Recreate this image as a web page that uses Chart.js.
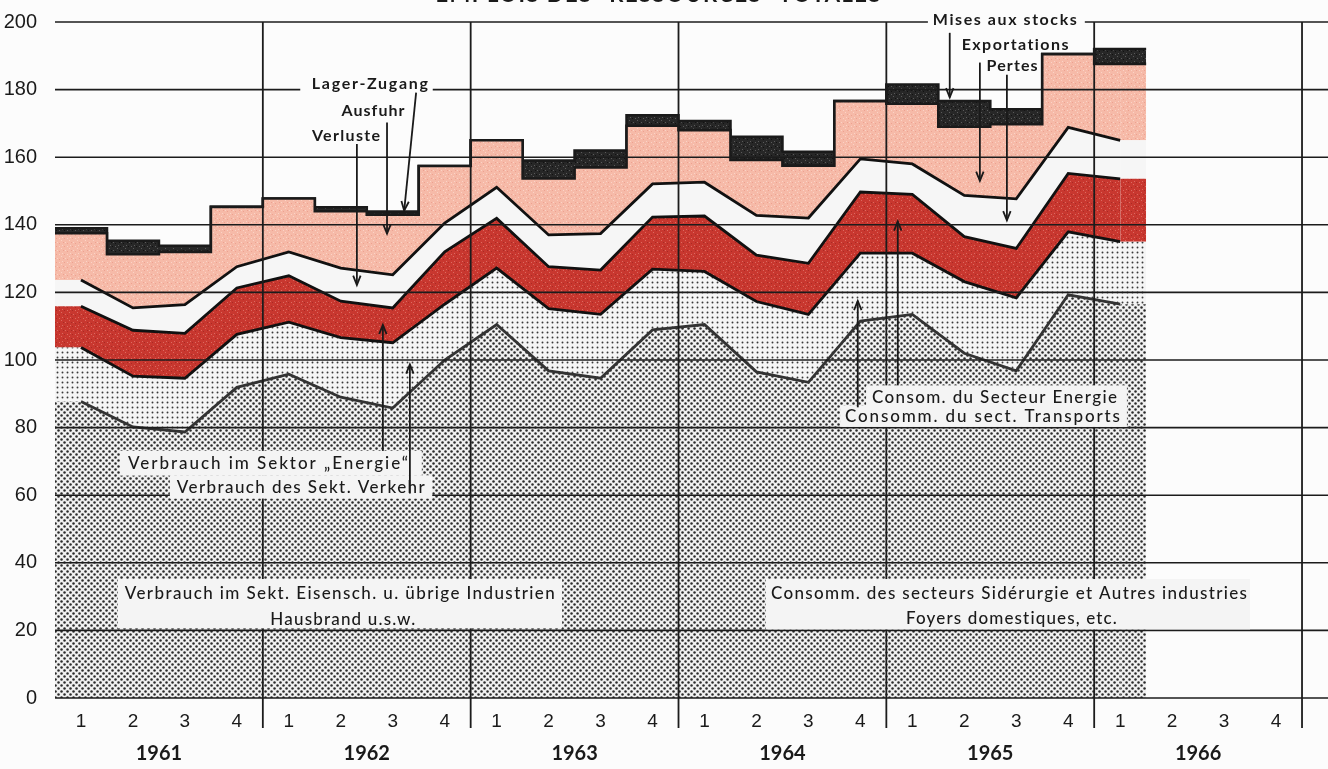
<!DOCTYPE html>
<html>
<head>
<meta charset="utf-8">
<script src="https://cdn.jsdelivr.net/npm/chart.js@4.4.1/dist/chart.umd.min.js"></script>
<style>
  html, body { margin: 0; padding: 0; background: #fcfcfc; }
  .wrap { width: 1328px; height: 769px; position: relative; }
</style>
</head>
<body>
<div class="wrap"><canvas id="chart"></canvas></div>
<script>
const years = ['1961', '1962', '1963', '1964', '1965', '1966'];
const quarterLabels = ['1', '2', '3', '4'];

// upper edge of each band, quarters 1961-1 .. 1966-1
const industrie    = [87.7, 80.2, 78.7, 91.9, 95.8, 89.0, 85.8, 100.0, 110.5, 96.8, 94.6, 108.9, 110.5, 96.5, 93.4, 111.5, 113.5, 102.0, 96.8, 119.3, 116.5];
const transports   = [103.7, 95.2, 94.6, 107.6, 111.2, 106.6, 105.1, 116.5, 127.2, 115.2, 113.5, 126.9, 126.2, 117.3, 113.5, 131.6, 131.6, 123.2, 118.4, 137.9, 135.0];
const energie      = [115.9, 108.8, 107.9, 121.3, 124.9, 117.4, 115.4, 132.0, 141.9, 127.6, 126.6, 142.3, 142.6, 131.0, 128.6, 149.7, 149.0, 136.5, 133.0, 155.2, 153.6];
const pertes       = [123.7, 115.4, 116.4, 127.6, 132.0, 127.2, 125.2, 140.5, 151.1, 137.0, 137.4, 152.1, 152.6, 142.8, 142.0, 159.5, 158.0, 148.7, 147.7, 168.8, 165.0];
const exportations = [137.5, 131.3, 132.0, 145.3, 147.8, 144.0, 143.0, 157.4, 165.0, 153.7, 157.0, 169.3, 168.0, 159.2, 157.5, 176.6, 175.8, 169.0, 169.8, 190.5, 187.6];
const stocks       = [139.0, 135.3, 133.8, 145.3, 147.8, 145.2, 143.9, 157.4, 165.0, 159.0, 162.0, 172.4, 170.7, 166.0, 161.6, 176.6, 181.5, 176.6, 174.2, 190.5, 192.0];

// annotations, in quarters (x) and chart units (y)
const labels = [
  { t: 'Lager-Zugang', q: 6.06, v: 181.8, w: 116, bold: true, bg: [4.72, 184.4, 7.27, 179.1] },
  { t: 'Ausfuhr', q: 6.12, v: 173.6, w: 63, bold: true },
  { t: 'Verluste', q: 5.60, v: 166.2, w: 68, bold: true },
  { t: 'Mises aux stocks', q: 18.28, v: 200.6, w: 144, bold: true, bg: [16.8, 202.9, 19.82, 197.6] },
  { t: 'Exportations', q: 18.48, v: 193.2, w: 107, bold: true },
  { t: 'Pertes', q: 18.42, v: 187.1, w: 51, bold: true },
  { t: 'Verbrauch im Sektor \u201EEnergie\u201C', q: 4.10, v: 69.3, w: 280 },
  { t: 'Verbrauch des Sekt. Verkehr', q: 4.73, v: 62.3, w: 248 },
  { t: 'Verbrauch im Sekt. Eisensch. u. übrige Industrien', q: 5.48, v: 30.8, w: 430 },
  { t: 'Hausbrand u.s.w.', q: 5.54, v: 23.2, w: 145 },
  { t: 'Consom. du Secteur Energie', q: 18.08, v: 89.0, w: 245 },
  { t: 'Consomm. du sect. Transports', q: 17.85, v: 83.4, w: 275 },
  { t: 'Consomm. des secteurs Sidérurgie et Autres industries', q: 18.36, v: 30.8, w: 476 },
  { t: 'Foyers domestiques, etc.', q: 18.41, v: 23.5, w: 211 }
];
const boxes = [
  [1.25, 73.1, 7.06, 65.8], [2.21, 65.9, 7.26, 59.0],
  [1.21, 35.2, 9.76, 20.6],
  [15.61, 92.5, 20.63, 86.0], [15.11, 86.6, 20.63, 80.2],
  [13.68, 35.2, 23.0, 20.3]
];
const arrows = [
  [6.95, 179.1, 6.72, 144.2], [6.39, 170.3, 6.39, 137.4], [5.81, 163.9, 5.81, 122.2],
  [6.31, 73.1, 6.31, 110.4], [6.83, 60.5, 6.83, 98.7],
  [17.22, 196.8, 17.22, 177.7], [17.80, 188.0, 17.80, 153.0], [18.32, 184.4, 18.32, 141.3],
  [16.22, 92.5, 16.22, 141.0], [15.45, 86.0, 15.45, 117.5]
];

const canvas = document.getElementById('chart');
const c2d = canvas.getContext('2d');

function tile(size, paint) {
  const c = document.createElement('canvas');
  c.width = c.height = size;
  paint(c.getContext('2d'));
  return c2d.createPattern(c, 'repeat');
}
function dots(size, pts, r, fg, bg) {
  return tile(size, g => {
    g.fillStyle = bg; g.fillRect(0, 0, size, size);
    g.fillStyle = fg;
    pts.forEach(([x, y]) => { g.beginPath(); g.arc(x, y, r, 0, Math.PI * 2); g.fill(); });
  });
}
function speckle(base, light, dark) {
  return tile(8, g => {
    g.fillStyle = base; g.fillRect(0, 0, 8, 8);
    g.fillStyle = light;
    [[1, 2], [5, 0], [6, 5], [3, 6]].forEach(([x, y]) => g.fillRect(x, y, 1, 1));
    g.fillStyle = dark;
    [[3, 3], [0, 6], [7, 2]].forEach(([x, y]) => g.fillRect(x, y, 1, 1));
  });
}

const densePat = dots(6, [[1.5, 1.5], [4.5, 4.5]], 1.25, '#2a2a2a', '#f0f0f0');
const lightPat = dots(5, [[2.5, 2.5]], 0.95, '#3a3a3a', '#f5f5f5');
const redPat = speckle('#c8372f', '#dc6a60', '#a92a24');
const pinkPat = speckle('#f6baa8', '#fbd3c6', '#eda190');
const blackPat = speckle('#272727', '#5a5a5a', '#111111');

const n = industrie.length;
const midLine = vals => [{ x: 0, y: vals[0] }, ...vals.map((v, i) => ({ x: i + 0.5, y: v })), { x: n, y: vals[n - 1] }];
const steps = vals => [...vals.map((v, i) => ({ x: i, y: v })), { x: n, y: vals[n - 1] }];
const hideEnds = col => ctx => (ctx.p0DataIndex === 0 || ctx.p1DataIndex === n + 1) ? 'rgba(0,0,0,0)' : col;

function band(vals, fill, bg, col) {
  return {
    data: midLine(vals), fill, backgroundColor: bg,
    borderColor: col, borderWidth: 2.8, pointRadius: 0, tension: 0,
    segment: { borderColor: hideEnds(col) }
  };
}

function fitText(ctx, text, cx, cy, width) {
  ctx.letterSpacing = '0px';
  const w = ctx.measureText(text).width;
  const k = [...text].length;
  ctx.letterSpacing = (k > 1 ? (width - w) / (k - 1) : 0) + 'px';
  ctx.textAlign = 'left';
  ctx.fillText(text, cx - width / 2, cy);
  ctx.letterSpacing = '0px';
}

const overlay = {
  id: 'overlay',
  afterDatasetsDraw(chart) {
    const { ctx, chartArea: a, scales: { x, y } } = chart;
    const X = q => x.getPixelForValue(q), Y = v => y.getPixelForValue(v);
    ctx.save();
    // grid on top of the bands
    ctx.strokeStyle = '#1c1c1c';
    ctx.lineWidth = 1.6;
    y.ticks.forEach(t => {
      ctx.beginPath(); ctx.moveTo(a.left, Y(t.value)); ctx.lineTo(a.right, Y(t.value)); ctx.stroke();
    });
    ctx.lineWidth = 1.8;
    years.forEach((yr, i) => {
      const px = X(4 * (i + 1));
      ctx.beginPath(); ctx.moveTo(px, Y(200)); ctx.lineTo(px, a.bottom + 30); ctx.stroke();
    });
    // text boxes
    ctx.fillStyle = '#f4f4f4';
    boxes.forEach(([q1, v1, q2, v2]) => ctx.fillRect(X(q1), Y(v1), X(q2) - X(q1), Y(v2) - Y(v1)));
    ctx.fillStyle = '#fcfcfc';
    labels.filter(l => l.bg).forEach(({ bg: [q1, v1, q2, v2] }) => ctx.fillRect(X(q1), Y(v1), X(q2) - X(q1), Y(v2) - Y(v1)));
    // labels
    ctx.fillStyle = '#1a1a1a';
    ctx.textBaseline = 'middle';
    labels.forEach(l => {
      ctx.font = (l.bold ? 'bold 16px' : '500 17px') + ' Lato';
      fitText(ctx, l.t, X(l.q), Y(l.v), l.w);
    });
    // arrows
    ctx.strokeStyle = '#1a1a1a';
    ctx.lineWidth = 1.8;
    arrows.forEach(([q0, v0, q1, v1]) => {
      const x0 = X(q0), y0 = Y(v0), x1 = X(q1), y1 = Y(v1);
      const ang = Math.atan2(y1 - y0, x1 - x0);
      ctx.beginPath(); ctx.moveTo(x0, y0); ctx.lineTo(x1, y1); ctx.stroke();
      ctx.beginPath();
      ctx.moveTo(x1 - 10 * Math.cos(ang - 0.38), y1 - 10 * Math.sin(ang - 0.38));
      ctx.lineTo(x1, y1);
      ctx.lineTo(x1 - 10 * Math.cos(ang + 0.38), y1 - 10 * Math.sin(ang + 0.38));
      ctx.stroke();
    });
    // years under the quarters
    ctx.font = 'bold 20px Lato';
    ctx.textAlign = 'center';
    years.forEach((yr, i) => ctx.fillText(yr, X(4 * i + 2), a.bottom + 56));
    // title, cut by the top edge
    ctx.font = 'bold 22px Lato';
    ctx.textBaseline = 'alphabetic';
    fitText(ctx, 'EMPLOIS DES \u201CRESSOURCES\u201D TOTALES', 658, 2, 445);
    ctx.restore();
  }
};

new Chart(canvas, {
  type: 'line',
  data: {
    datasets: [
      band(industrie, 'origin', densePat, '#333'),
      band(transports, '-1', lightPat, '#111'),
      band(energie, '-1', redPat, '#111'),
      band(pertes, '-1', '#f6f6f6', '#111'),
      {
        data: steps(exportations), fill: '-1', backgroundColor: pinkPat,
        borderColor: '#1a1a1a', borderWidth: 2.6, pointRadius: 0, stepped: 'before'
      },
      {
        data: steps(stocks), fill: '-1', backgroundColor: blackPat,
        borderColor: '#1a1a1a', borderWidth: 2.6, pointRadius: 0, stepped: 'before'
      }
    ]
  },
  options: {
    responsive: true,
    maintainAspectRatio: false,
    animation: false,
    events: [],
    layout: { padding: { top: 17, left: 0, right: 0, bottom: 0 } },
    plugins: { legend: { display: false }, tooltip: { enabled: false } },
    scales: {
      x: {
        type: 'linear',
        min: 0,
        max: 24.5,
        grid: { display: false },
        border: { display: false },
        afterBuildTicks: axis => {
          axis.ticks = years.flatMap((yr, i) => quarterLabels.map((q, j) => ({ value: 4 * i + j + 0.5 })));
        },
        afterFit: axis => { axis.height = 71; },
        ticks: {
          autoSkip: false,
          maxRotation: 0,
          padding: 4,
          color: '#1a1a1a',
          font: { size: 19, family: 'Liberation Sans' },
          callback: (value, index) => quarterLabels[index % 4]
        }
      },
      y: {
        min: 0,
        max: 200,
        grid: { display: false },
        border: { display: false },
        afterFit: axis => { axis.width = 55; },
        ticks: {
          stepSize: 20,
          padding: 10,
          color: '#1a1a1a',
          font: { size: 20, family: 'Liberation Sans' }
        }
      }
    }
  },
  plugins: [overlay]
});
</script>
</body>
</html>
